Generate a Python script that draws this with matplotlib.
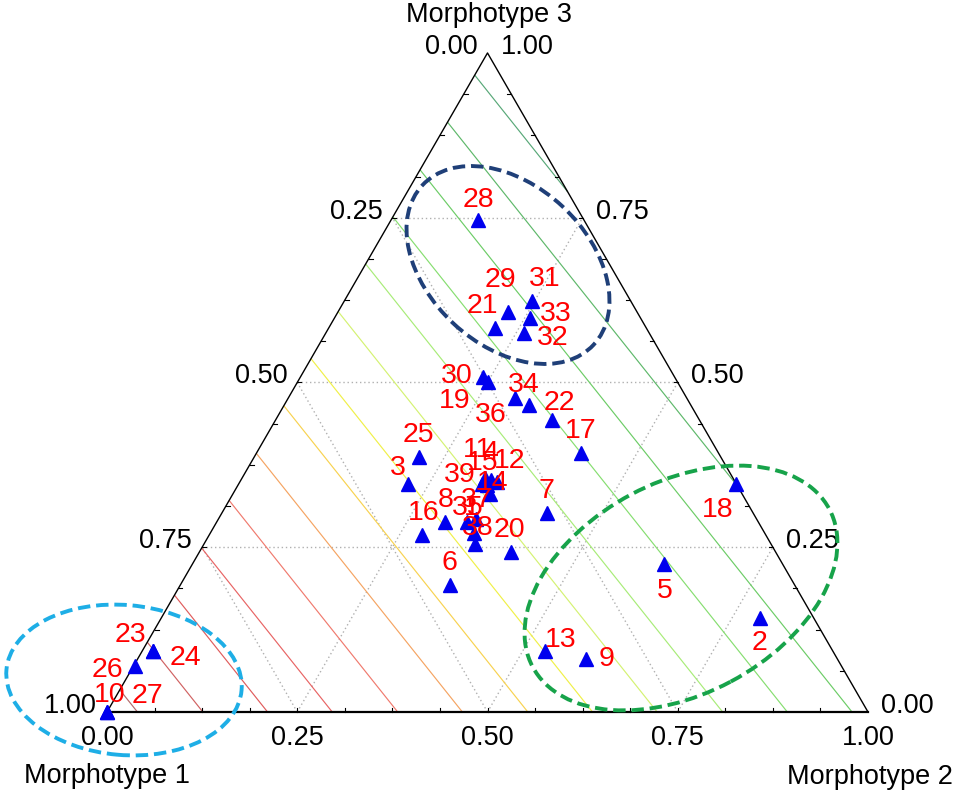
import numpy as np
import matplotlib.pyplot as plt
import matplotlib.tri as mtri
from matplotlib.patches import Ellipse

plt.rcParams['font.family'] = ['Liberation Sans', 'DejaVu Sans']

# sample composition (Morphotype 1, 2, 3)
labels = [str(i) for i in range(1, 40)]
m1 = [0.382, 0.071, 0.432, 0.319, 0.155, 0.453, 0.271, 0.412, 0.330, 1.000,
      0.326, 0.313, 0.378, 0.331, 0.329, 0.451, 0.180, 0.000, 0.249, 0.348,
      0.198, 0.194, 0.893, 0.893, 0.396, 0.928, 1.000, 0.139, 0.169, 0.251,
      0.130, 0.164, 0.145, 0.213, 0.383, 0.226, 0.369, 0.388, 0.334]
m2 = [0.346, 0.787, 0.222, 0.329, 0.620, 0.354, 0.427, 0.299, 0.590, 0.000,
      0.319, 0.338, 0.529, 0.338, 0.327, 0.280, 0.427, 0.654, 0.250, 0.409,
      0.219, 0.363, 0.014, 0.014, 0.217, 0.002, 0.000, 0.114, 0.224, 0.240,
      0.247, 0.261, 0.257, 0.321, 0.329, 0.297, 0.338, 0.356, 0.320]
m3 = [0.272, 0.142, 0.346, 0.352, 0.225, 0.193, 0.302, 0.289, 0.080, 0.000,
      0.355, 0.349, 0.093, 0.331, 0.344, 0.269, 0.393, 0.346, 0.501, 0.243,
      0.583, 0.443, 0.093, 0.093, 0.387, 0.070, 0.000, 0.747, 0.607, 0.509,
      0.623, 0.575, 0.598, 0.466, 0.288, 0.477, 0.293, 0.255, 0.346]

# label offsets in pixels
label_off = [(-2, 28), (0, -22), (-10, 19), (-1, 30), (0, -24), (0, 25), (0, 25), (1, 25),
             (20, 3), (3, 20), (-7, 31), (13, 24), (16, 14), (3, 14), (-4, 25), (1, 25),
             (-1, 25), (-19, -23), (-33, -16), (-1, 25), (-13, 25), (8, 20), (-23, 19),
             (32, -4), (-1, 25), (-28, -1), (40, 19), (0, 23), (-8, 35), (-27, 4),
             (13, 25), (28, -2), (26, 7), (-5, 23), (1, 17), (-24, -14), (1, 22),
             (3, 19), (-22, 12)]

# fitted surface contour levels and colours
levels = [-0.150, -0.065, 0.021, 0.106, 0.191, 0.277, 0.362, 0.447,
          0.533, 0.618, 0.704, 0.789, 0.874, 0.960]
level_colors = ['#58a878', '#5eb86a', '#6ccc66', '#86de70', '#a8ec78', '#d4f272',
                '#f0f048', '#f8d250', '#f5a462', '#f07a6e', '#e86464', '#e05c5c',
                '#d06262', '#b46a6a']

ticks = [0.0, 0.25, 0.5, 0.75, 1.0]

S = np.sqrt(3) / 2
PX = 761.0
fs = 19.5
fs_pt = 20.5


def xy(b, c):
    b = np.asarray(b, float)
    c = np.asarray(c, float)
    return b + c / 2, c * S


fig = plt.figure(figsize=(9.57, 7.94), dpi=100)
ax = fig.add_axes([0, 0, 1, 1])
ax.set_xlim(-107 / PX, 850 / PX)
ax.set_ylim(-82 / PX, 712 / PX)
ax.axis('off')

# contour of fitted surface
n = 60
gb, gc = [], []
for i in range(n + 1):
    for j in range(n + 1 - i):
        gb.append(i / n)
        gc.append(j / n)
gb = np.array(gb)
gc = np.array(gc)
ga = 1 - gb - gc
gx, gy = xy(gb, gc)
tri = mtri.Triangulation(gx, gy)
z = ga - 0.19 * gc
ax.tricontour(tri, z, levels=levels, colors=level_colors, linewidths=0.85, zorder=2)

# grid
for v in [0.25, 0.5, 0.75]:
    for p, q in [((0, v), (1 - v, v)), ((v, 0), (v, 1 - v)), ((1 - v, 0), (0, 1 - v))]:
        x0, y0 = xy(*p)
        x1, y1 = xy(*q)
        ax.plot([x0, x1], [y0, y1], color='#b0b0b0', lw=1.0, ls=(0, (1, 2)), zorder=1)

# triangle frame
ax.plot([0, 0.5, 1], [0, S, 0], color='black', lw=1.0, zorder=3)
ax.plot([0, 1], [0, 0], color='black', lw=1.6, zorder=3)

# minor ticks
tl = 4 / PX
for t in np.arange(1, 16) / 16:
    x0, y0 = xy(t, 0)
    ax.plot([x0, x0], [y0, y0 + tl], color='black', lw=0.8, zorder=3)
    x0, y0 = xy(0, 1 - t)
    ax.plot([x0, x0 + tl], [y0, y0], color='black', lw=0.8, zorder=3)
    x0, y0 = xy(1 - t, t)
    ax.plot([x0, x0 - tl], [y0, y0], color='black', lw=0.8, zorder=3)

# tick labels
for v in ticks:
    ax.annotate(f'{v:.2f}', xy(v, 0), xytext=(0, -26), textcoords='offset pixels',
                ha='center', va='center', fontsize=fs)
    ax.annotate(f'{v:.2f}', xy(0, 1 - v), xytext=(-10, 6), textcoords='offset pixels',
                ha='right', va='center', fontsize=fs)
    ax.annotate(f'{v:.2f}', xy(1 - v, v), xytext=(13, 6), textcoords='offset pixels',
                ha='left', va='center', fontsize=fs)

ax.annotate('Morphotype 3', xy(0, 1), xytext=(1, 38), textcoords='offset pixels',
            ha='center', va='center', fontsize=fs)
ax.annotate('Morphotype 1', xy(0, 0), xytext=(0, -64), textcoords='offset pixels',
            ha='center', va='center', fontsize=fs)
ax.annotate('Morphotype 2', xy(1, 0), xytext=(2, -65), textcoords='offset pixels',
            ha='center', va='center', fontsize=fs)

# points and labels
px, py = xy(m2, m3)
ax.plot(px, py, '^', color='#0000ee', ms=10.5, mec='#0000ee', ls='none', zorder=5, clip_on=False)
for lab, x0, y0, off in zip(labels, px, py, label_off):
    ax.annotate(lab, (x0, y0), xytext=off, textcoords='offset pixels', ha='center',
                va='center_baseline', fontsize=fs_pt, color='#ff0000', zorder=6)

# group ellipses
groups = [((508, 265), 117, 80, -43, '#1f3f78'),
          ((681, 588), 168, 106, 28, '#17a34a'),
          ((124, 680), 118, 75, -5, '#1eaee6')]
for (cx, cy), a, b, ang, col in groups:
    e = Ellipse(((cx - 107) / PX, (712 - cy) / PX), 2 * a / PX, 2 * b / PX, angle=ang,
                fill=False, edgecolor=col, lw=2.8, ls=(0, (3.2, 1.5)), zorder=4, clip_on=False)
    ax.add_patch(e)

fig.savefig('out.png', dpi=100)
